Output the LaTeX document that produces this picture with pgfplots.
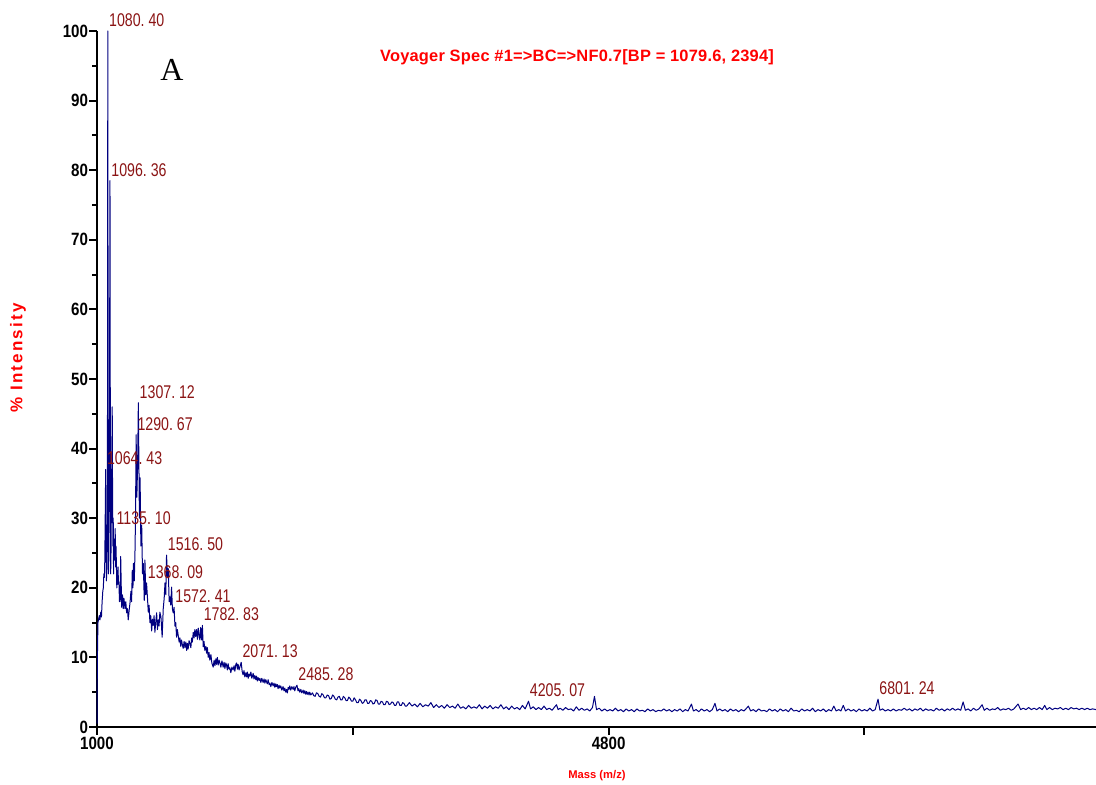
\documentclass[border=0pt]{standalone}
\usepackage{fontspec}
\setmainfont{Liberation Sans}
\newfontfamily\tickfont[FakeStretch=0.85]{Liberation Sans}
\newfontfamily\peakfont[FakeStretch=0.77]{Liberation Sans}
\newfontfamily\titlefont[LetterSpace=1.4]{Liberation Sans}
\newfontfamily\labfont[LetterSpace=13]{Liberation Sans}
\newfontfamily\serifA{Liberation Serif}
\usepackage{pgfplots}
\pgfplotsset{compat=1.18}
\definecolor{navy}{RGB}{0,0,128}
\definecolor{peakred}{RGB}{139,20,20}
\definecolor{brightred}{RGB}{255,0,0}
\tikzset{peak/.style={anchor=south west, inner sep=0pt, xshift=0.5pt, yshift=2pt, text=peakred, font=\peakfont\fontsize{9.2}{10}\selectfont}}
\begin{document}
\begin{tikzpicture}
\begin{axis}[name=ax,
  width=499.5pt, height=348pt, scale only axis,
  xmin=1000, xmax=8420, ymin=0, ymax=100,
  axis lines*=left, clip=false,
  axis line style={line width=1.2pt, black},
  xtick={1000,2900,4800,6700}, xticklabels={1000,{},4800,{}},
  ytick={0,10,...,100}, minor ytick={5,15,...,95},
  tick align=outside, major tick length=4pt, minor tick length=2.5pt,
  every tick/.style={line width=1pt, black},
  /pgf/number format/assume math mode=true,
  yticklabel style={font=\tickfont\bfseries\fontsize{8.9}{10}\selectfont, inner sep=0.3pt},
  xticklabel style={font=\tickfont\bfseries\fontsize{8.9}{10}\selectfont, inner sep=1pt},
]
\addplot[navy, line width=0.5pt, line join=round, mark=none] coordinates {
(1000,0.5)(1001.5,6)(1003,10)(1007,15)(1012,15.5)(1017,16)(1022,15.4)(1028,16.5)(1033,15.8)(1038,18)(1043,19.5)(1047,20)(1051,22)(1055,21.5)(1058,24)(1061,30)(1064.4,37)(1067,27)(1070,21)(1073,23)(1076,28)(1078,45)(1080.4,100)(1082.5,50)(1085,22)(1087.5,24)(1090,30)(1093,45)(1096.4,78.5)(1099,40)(1101.5,22)(1104,25)(1107,32)(1110,38)(1113,46)(1115.5,34)(1118,26)(1120.5,30)(1123,22)(1126,26)(1129,27)(1132,24)(1135.1,28.5)(1138,23)(1141,26)(1144,23.5)(1147,20)(1150,22)(1153,20.5)(1156,23)(1159,21)(1163,20.7)(1167,18)(1171,18)(1176,24.5)(1183,17.2)
(1189,19)(1195,17)(1200,18.5)(1208,17)(1214,18)(1220,16.4)(1226,17)(1232,15.4)(1239,16.8)(1245,17.8)(1252,19.5)(1257,18)(1262,22.5)(1267,20)(1271,23.5)(1277,21)(1282,25)(1286,30)(1290.7,42)(1296,33)(1302,38)(1307.1,46.6)(1315,30)(1320,35.8)(1326,26)(1332,29)(1338,22)(1344,23.5)(1351,18.2)(1356,24)(1362,19)(1368.1,20.7)(1375,18.5)(1381,16.5)(1387,17.5)(1393,15)(1399,16)(1406,13.8)(1412,15.5)(1418,14.6)(1424,16)(1430,13.6)(1436,15)(1443,16.4)(1449,14)(1455,15.4)(1461,14.5)(1467,16.5)(1475,15.8)(1484,12.9)(1492,17)(1499,18.5)(1505,20.7)(1511,19)(1516.5,24.7)(1524,21.5)(1529,22.8)(1536,18)(1542,18.7)(1548,17.5)(1554,20.1)(1560,17)(1566,16.4)(1572.4,17.2)(1579,14.5)(1585,15)(1591,12.9)(1597,14)(1603,13.2)(1610,12.2)(1616,12.8)(1622,11.6)(1628,12.5)(1634,11.8)(1640,11.3)(1647,12.3)(1653,11.4)(1660,12.2)(1666,11)(1672,12)(1677,11.2)(1684,12.4)(1690,12)(1697,11.4)(1703,12.8)(1708,12.2)(1715,13.6)(1721,12.8)(1727,14)(1733,13)(1740,14)(1746,12.6)(1752,14.2)(1758,13.2)(1764,12.5)(1770,14.3)(1777,12.5)(1782.8,14.6)(1789,11.5)(1795,12.3)(1801,11)(1809,11.6)(1814,10.6)(1820,11.4)(1826,10)(1832,10.7)(1838,9.6)(1846,10.4)(1853,9.2)(1863,8.6)(1870,9.6)(1876,8.8)(1883,9.8)(1888,9)(1894,10)(1900,8.9)(1907,9.6)(1913,9.2)(1920,8.6)(1928,9.5)(1937,8.6)(1944,9.3)(1950,8.4)(1957,9.2)(1962,8.9)(1968,8.2)(1974,9.1)(1981,8.3)(1987,8.5)(1994,7.8)(2002,8.6)(2011,8.2)(2018,8.8)(2024,8)(2031,9)(2037,9.2)(2043,8.3)(2048,9)(2055,8.2)(2061,8.6)(2071.1,9.3)(2078,8)(2085,7.5)(2092,8.1)(2098,7.2)(2106,7.8)(2111,7.2)(2117,7.9)(2123,7)(2129,7.6)(2135,7.3)(2143,7.9)(2150,7)(2160,7.7)(2166,6.9)(2172,7.4)(2180,6.8)(2185,7.3)(2191,6.6)(2197,7.1)(2204,6.7)(2210,7)(2217,6.4)(2224,7)(2234,6.4)(2241,6.9)(2247,6.3)(2254,6.8)(2259,6.5)(2265,6.2)(2271,6.8)(2278,6.1)(2284,6.3)(2291,5.8)(2299,6.4)(2308,5.9)(2315,6.3)(2321,5.7)(2328,6.2)(2333,5.8)(2339,6.1)(2345,5.5)(2352,6)(2358,5.6)(2365,5.9)(2373,5.3)(2382,5.8)(2389,5.2)(2395,5.6)(2402,5)(2408,5.4)(2414,4.9)(2420,5.7)(2426,5.4)(2432,5.9)(2439,5.3)(2447,5.8)(2457,5.4)(2463,5.8)(2469,5.2)(2476,5.7)(2485.3,6)(2493,5.2)(2499,5.5)(2506,5)(2514,5.4)(2521,4.9)(2531,5.3)(2537,4.8)(2543,5.2)(2551,4.7)(2556,5.1)(2562,4.7)(2568,5)(2575,4.6)(2580,5)(2588,4.6)
(2600,4.9)(2610,4.5)(2620,4.4)(2630,4.9)(2640,4.8)(2650,4.4)(2660,4.3)(2670,4.8)(2680,4.6)(2690,4.2)(2700,4.2)(2710,4.6)(2720,4.5)(2730,4.0)(2740,4.1)(2750,4.6)(2760,4.4)(2770,4.0)(2780,3.9)(2790,4.3)(2800,4.4)(2810,3.9)(2820,3.9)(2830,4.4)(2840,4.2)(2850,3.8)(2860,3.8)(2870,4.3)(2880,4.1)(2890,3.7)(2900,3.7)(2910,4.2)(2920,3.9)(2930,3.5)(2940,3.5)(2950,4.0)(2960,3.8)(2970,3.4)(2980,3.5)(2990,3.9)(3000,3.9)(3010,3.4)(3020,3.4)(3030,3.8)(3040,3.7)(3050,3.3)(3060,3.4)(3070,3.9)(3080,3.8)(3090,3.3)(3100,3.3)(3110,3.7)(3120,3.6)(3130,3.2)(3140,3.2)(3150,3.7)(3160,3.6)(3170,3.2)(3180,3.3)(3190,3.6)(3200,3.5)(3210,3.1)(3220,3.1)(3230,3.6)(3240,3.6)(3250,3.1)(3260,3.1)(3270,3.5)(3280,3.4)(3290,3.0)(3300,3.0)
(3320,3.5)(3340,3.0)(3360,3.3)(3380,2.9)(3400,3.4)(3420,2.9)(3440,3.2)(3460,3.0)(3480,3.5)(3500,2.8)(3520,3.2)(3540,2.8)(3560,3.1)(3580,2.7)(3600,3.2)(3620,2.8)(3640,3.0)(3660,2.7)(3680,3.3)(3700,2.7)(3720,2.9)(3740,2.6)(3760,3.1)(3780,2.7)(3800,2.9)
(3820,2.7)(3840,3.2)(3860,2.6)(3880,3.0)(3900,2.7)(3920,3.1)(3940,2.6)(3960,2.9)(3980,2.7)(4000,3.2)(4020,2.6)(4040,2.9)(4060,2.5)(4080,3.0)(4100,2.6)(4120,2.8)(4140,2.5)(4160,3.1)(4180,2.6)(4205.1,3.7)(4220,2.6)(4240,2.9)(4260,2.5)(4280,2.8)(4300,2.5)(4320,3.0)(4340,2.5)(4360,2.7)(4380,2.4)(4400,2.9)(4413,3.2)(4425,2.5)(4440,2.7)(4460,2.4)(4480,2.8)(4500,2.5)(4520,2.6)(4540,2.3)(4560,2.9)(4580,2.4)(4600,2.7)(4620,2.4)(4640,2.6)(4660,2.3)(4680,2.8)(4695,4.4)(4710,2.5)(4730,2.7)(4750,2.3)(4770,2.6)(4790,2.3)(4810,2.5)(4830,2.3)(4850,2.7)(4870,2.3)(4890,2.5)(4910,2.2)(4930,2.6)(4950,2.3)(4970,2.5)(4990,2.2)(5010,2.6)(5030,2.3)(5050,2.4)(5070,2.2)(5090,2.6)(5110,2.3)(5130,2.5)(5150,2.2)(5170,2.4)(5190,2.3)
(5210,2.6)(5230,2.3)(5250,2.5)(5270,2.2)(5290,2.5)(5310,2.3)(5330,2.6)(5350,2.2)(5370,2.5)(5390,2.3)(5415,3.3)(5430,2.3)(5450,2.5)(5470,2.2)(5490,2.6)(5510,2.3)(5530,2.5)(5550,2.2)(5570,2.5)(5590,3.4)(5605,2.3)(5625,2.6)(5645,2.3)(5665,2.5)(5685,2.2)(5705,2.6)(5725,2.3)(5745,2.5)(5765,2.2)(5785,2.5)(5805,2.3)(5820,2.6)(5838,3.0)(5855,2.3)(5875,2.5)(5895,2.2)(5915,2.6)(5935,2.3)(5955,2.4)(5975,2.2)(5995,2.6)
(6015,2.3)(6035,2.5)(6055,2.2)(6075,2.6)(6095,2.3)(6115,2.5)(6135,2.2)(6155,2.7)(6175,2.3)(6195,2.4)(6215,2.2)(6235,2.6)(6255,2.3)(6275,2.5)(6295,2.3)(6315,2.7)(6335,2.2)(6355,2.5)(6375,2.3)(6395,2.6)(6415,2.2)(6435,2.5)(6455,2.3)(6473,3.0)(6490,2.3)(6510,2.5)(6525,2.3)(6543,3.1)(6560,2.3)(6580,2.6)(6600,2.3)(6620,2.5)(6640,2.2)(6660,2.6)(6680,2.3)(6700,2.5)(6720,2.3)(6740,2.7)(6760,2.3)(6780,2.5)(6801.2,4.0)(6815,2.4)(6835,2.6)(6855,2.3)(6875,2.5)(6895,2.3)(6915,2.6)(6935,2.3)(6955,2.5)(6975,2.4)(6995,2.7)
(7015,2.4)(7035,2.6)(7055,2.3)(7075,2.6)(7095,2.4)(7115,2.7)(7135,2.3)(7155,2.6)(7175,2.4)(7195,2.5)(7215,2.3)(7235,2.7)(7255,2.4)(7275,2.6)(7295,2.3)(7315,2.6)(7335,2.4)(7355,2.7)(7375,2.4)(7395,2.6)(7415,2.4)(7433,3.6)(7450,2.4)(7470,2.6)(7490,2.3)(7510,2.7)(7530,2.4)(7550,2.6)(7574,3.2)(7590,2.4)(7610,2.7)(7630,2.4)(7650,2.6)(7670,2.5)(7690,2.8)(7710,2.4)(7730,2.6)(7750,2.5)(7770,2.7)(7790,2.4)(7810,2.6)(7841,3.3)(7860,2.5)(7880,2.7)(7900,2.5)(7920,2.8)(7940,2.5)(7960,2.7)(7980,2.5)(8000,2.8)(8020,2.5)(8039,3.1)(8055,2.5)(8075,2.8)(8095,2.5)(8115,2.7)(8135,2.6)(8155,2.8)(8175,2.5)(8195,2.7)(8215,2.5)(8235,2.8)(8255,2.6)(8275,2.7)(8295,2.5)(8315,2.7)(8335,2.5)(8355,2.7)(8375,2.5)(8395,2.6)(8420,2.5)
};
\node[peak] at (axis cs:1080.4,100) {1080.\ 40};
\node[peak] at (axis cs:1096.4,78.5) {1096.\ 36};
\node[peak] at (axis cs:1307.1,46.6) {1307.\ 12};
\node[peak] at (axis cs:1290.7,42) {1290.\ 67};
\node[peak] at (axis cs:1064.4,37) {1064.\ 43};
\node[peak] at (axis cs:1135.1,28.5) {1135.\ 10};
\node[peak] at (axis cs:1516.5,24.7) {1516.\ 50};
\node[peak] at (axis cs:1368.1,20.7) {1368.\ 09};
\node[peak] at (axis cs:1572.4,17.2) {1572.\ 41};
\node[peak] at (axis cs:1782.8,14.6) {1782.\ 83};
\node[peak] at (axis cs:2071.1,9.3) {2071.\ 13};
\node[peak] at (axis cs:2485.3,6) {2485.\ 28};
\node[peak] at (axis cs:4205.1,3.7) {4205.\ 07};
\node[peak] at (axis cs:6801.2,4.0) {6801.\ 24};
\end{axis}
\node[text=brightred, font=\titlefont\bfseries\fontsize{8.2}{10}\selectfont, inner sep=0pt] at ([xshift=240pt,yshift=-13.3pt]ax.north west) {Voyager Spec \#1=>BC=>NF0.7[BP = 1079.6, 2394]};
\node[font=\serifA\fontsize{16}{18}\selectfont, inner sep=0pt] at ([xshift=37.5pt,yshift=-19.5pt]ax.north west) {A};
\node[rotate=90, text=brightred, font=\labfont\bfseries\fontsize{8.5}{10}\selectfont, inner sep=0pt] at ([xshift=-39.5pt,yshift=10.5pt]ax.west) {\% Intensity};
\node[text=brightred, font=\bfseries\fontsize{5.6}{7}\selectfont, inner sep=0pt] at ([xshift=250pt,yshift=-24.5pt]ax.south west) {Mass (m/z)};
\pgfresetboundingbox
\path[use as bounding box] ([xshift=-48.5pt,yshift=-29pt]ax.south west) rectangle ([yshift=15.5pt]ax.north east);
\end{tikzpicture}
\end{document}
